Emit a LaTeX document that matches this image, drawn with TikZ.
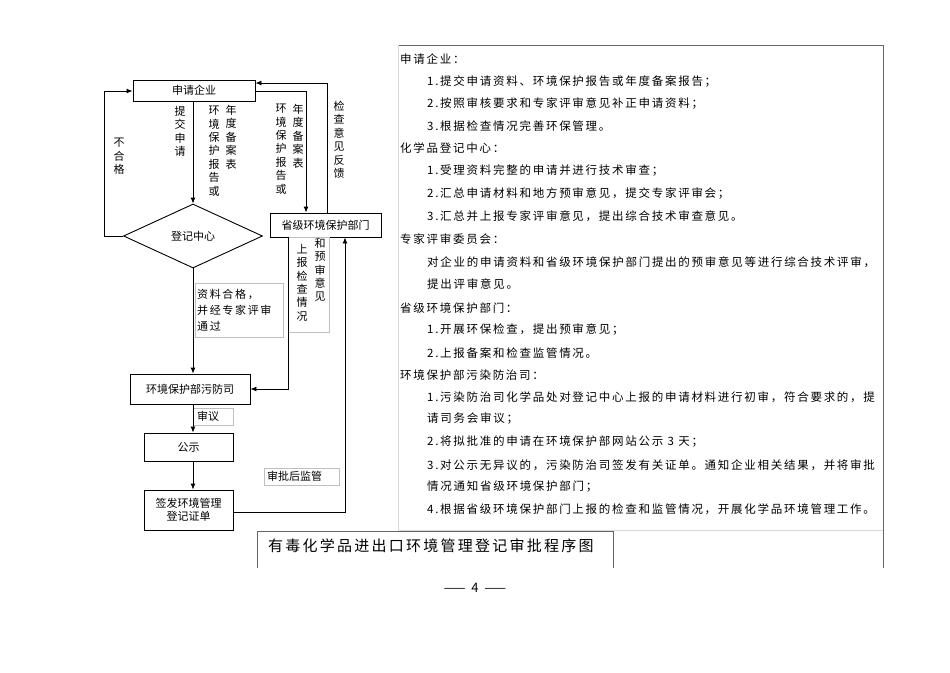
\documentclass[tikz,border=0pt]{standalone}
\usepackage{fontspec}
\setmainfont{Noto Sans CJK SC}
\newfontfamily\widecjk[LetterSpace=15]{Noto Sans CJK SC}
\usetikzlibrary{shapes.geometric,arrows.meta}
\begin{document}
\begin{tikzpicture}[x=1pt,y=-1pt,
  box/.style={draw,line width=0.9pt,inner sep=0pt,font=\fontsize{11}{13}\selectfont},
  lbl/.style={draw=black!25,line width=0.5pt,inner sep=0pt},
  vt/.style={font=\fontsize{11}{13.4}\selectfont,align=center,inner sep=0pt,anchor=north},
  arr/.style={line width=0.9pt,-{Latex[length=6pt,width=5pt]}},
  tx/.style={anchor=west,inner sep=0pt,font=\widecjk\fontsize{11.5}{13}\selectfont}]
\useasboundingbox (0,0) rectangle (950,672);
% flow nodes
\node[box,minimum width=122pt,minimum height=21pt] (qy) at (194,90.5) {申请企业};
\node[box,diamond,aspect=2.2,minimum width=139pt,minimum height=64pt] (dj) at (193,236) {登记中心};
\node[box,minimum width=111pt,minimum height=24pt] (sj) at (325.5,225) {省级环境保护部门};
\node[box,minimum width=120pt,minimum height=30pt] (wf) at (190,389) {环境保护部污防司};
\node[box,minimum width=89pt,minimum height=28pt] (gs) at (188.5,447) {公示};
\node[box,minimum width=89pt,minimum height=40pt,align=center] (qf) at (188.5,510) {签发环境管理\\登记证单};
% label boxes
\node[lbl,minimum width=88pt,minimum height=54pt] (l1) at (239,310) {};
\node[anchor=west,inner sep=0pt,align=left,font=\widecjk\fontsize{11}{16}\selectfont] (l1t) at (197,310) {资料合格，\\并经专家评审\\通过};
\node[lbl,minimum width=41pt,minimum height=95pt] (l2) at (308.5,284.5) {};
\node[lbl,minimum width=40pt,minimum height=17pt] (l3) at (213,416.5) {};
\node[anchor=west,inner sep=0pt,font=\fontsize{11}{13}\selectfont] (l3t) at (197,416.5) {审议};
\node[lbl,minimum width=75pt,minimum height=17pt] (l4) at (301.5,476.5) {};
\node[anchor=west,inner sep=0pt,font=\fontsize{11}{13}\selectfont] (l4t) at (267,476.5) {审批后监管};
% vertical texts
\node[vt] (v1) at (180,106) {提\\交\\申\\请};
\node[vt] (v2) at (214,106) {环\\境\\保\\护\\报\\告\\或};
\node[vt] (v3) at (231,105) {年\\度\\备\\案\\表};
\node[vt] (v4) at (281,104) {环\\境\\保\\护\\报\\告\\或};
\node[vt] (v5) at (298,104) {年\\度\\备\\案\\表};
\node[vt] (v6) at (339,101) {检\\查\\意\\见\\反\\馈};
\node[vt] (v7) at (119,138) {不\\合\\格};
\node[vt] (v8) at (302,244) {上\\报\\检\\查\\情\\况};
\node[vt] (v9) at (320,238) {和\\预\\审\\意\\见};
% connectors
\draw[arr] (qy.south -| dj.north) -- (dj.north);
\draw[arr] (dj.west) -- (104,236) -- (104,91) -- (qy.west |- 0,91);
\coordinate (c1) at (306,91);
\draw[arr] (qy.east |- c1) -- (c1) -- (c1 |- sj.north);
\coordinate (c2) at (327,83);
\draw[arr] (c2 |- sj.north) -- (c2) -- (qy.east |- c2);
\coordinate (c3) at (288,389);
\draw[arr] (c3 |- sj.south) -- (c3) -- (wf.east);
\draw[arr] (dj.south) -- (wf.north -| dj.south);
\draw[arr] (wf.south -| 193,0) -- (gs.north -| 193,0);
\draw[arr] (gs.south -| 193,0) -- (qf.north -| 193,0);
\coordinate (c4) at (345,512);
\draw[arr] (qf.east |- c4) -- (c4) -- (c4 |- sj.south);
% right panel
\draw[black!60,line width=0.5pt] (398,45) -- (883,45) -- (883,568);
\draw[black!15,line width=0.5pt] (398,45) -- (398,530) -- (883,530);
\foreach \y/\x/\t [count=\i] in {
59/400/申请企业：,
82/427/1.提交申请资料、环境保护报告或年度备案报告；,
104/427/2.按照审核要求和专家评审意见补正申请资料；,
126/427/3.根据检查情况完善环保管理。,
148/400/化学品登记中心：,
171/427/1.受理资料完整的申请并进行技术审查；,
194/427/2.汇总申请材料和地方预审意见，提交专家评审会；,
216/427/3.汇总并上报专家评审意见，提出综合技术审查意见。,
239/400/专家评审委员会：,
262/427/对企业的申请资料和省级环境保护部门提出的预审意见等进行综合技术评审，,
284/427/提出评审意见。,
308/400/省级环境保护部门：,
330/427/1.开展环保检查，提出预审意见；,
353/427/2.上报备案和检查监管情况。,
375/400/环境保护部污染防治司：,
397/427/1.污染防治司化学品处对登记中心上报的申请材料进行初审，符合要求的，提,
419/427/请司务会审议；,
442/427/2.将拟批准的申请在环境保护部网站公示 3 天；,
465/427/3.对公示无异议的，污染防治司签发有关证单。通知企业相关结果，并将审批,
487/427/情况通知省级环境保护部门；,
509/427/4.根据省级环境保护部门上报的检查和监管情况，开展化学品环境管理工作。}
  \node[tx] (t\i) at (\x,\y) {\t};
% title box
\draw[black!60,line width=0.5pt] (257,568) -- (257,531) -- (613,531) -- (613,568);
\node[anchor=west,inner sep=0pt,font=\widecjk\fontsize{15}{17}\selectfont] (title) at (268,546) {有毒化学品进出口环境管理登记审批程序图};
\node[font=\fontsize{13}{15}\selectfont] (pg) at (475,588) {——\ \ 4\ \ ——};
\end{tikzpicture}
\end{document}
